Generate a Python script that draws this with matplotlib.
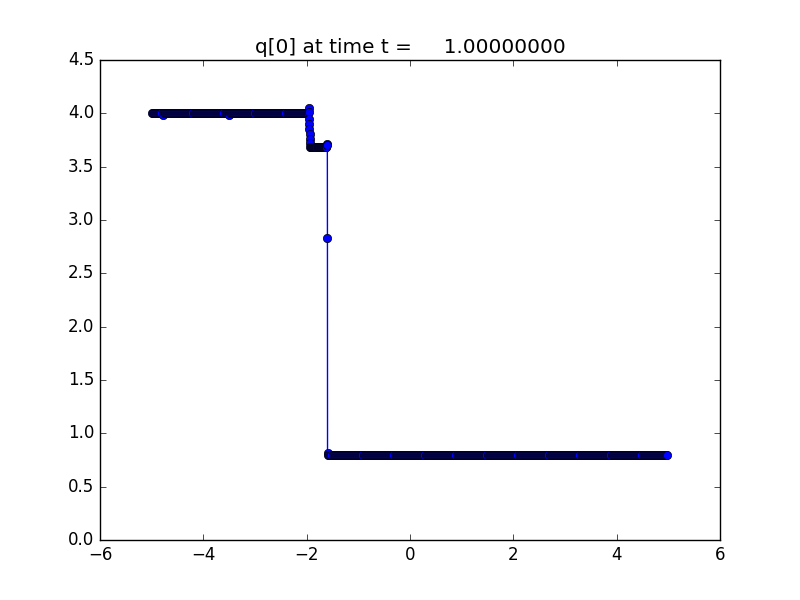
import numpy as np
import matplotlib
matplotlib.use('Agg')
import matplotlib.pyplot as plt

plt.style.use('classic')

title_text = "q[0] at time t =     1.00000000"

# Left plateau (state q = 4.0)
left_x = np.arange(-4.99, -1.96, 0.02)
left_q = np.full(left_x.size, 4.0)
# a couple of slightly displaced points on the left plateau
dip_x = [-4.79, -3.51]
dip_q = [3.985, 3.985]

# first transition column near x = -1.95
col1_x = [-1.955, -1.953, -1.951, -1.949, -1.947, -1.945, -1.943, -1.94]
col1_q = [4.05, 4.01, 3.95, 3.90, 3.85, 3.81, 3.76, 3.72]

# intermediate plateau
mid_x = np.arange(-1.93, -1.61, 0.01)
mid_q = np.full(mid_x.size, 3.68)

# shock column near x = -1.6
col2_x = [-1.605, -1.600, -1.598, -1.596]
col2_q = [3.71, 3.70, 2.83, 0.82]

# right plateau (state q = 0.8)
right_x = np.arange(-1.58, 5.0, 0.02)
right_q = np.full(right_x.size, 0.80)

x = np.concatenate([left_x, dip_x, col1_x, mid_x, col2_x, right_x])
q = np.concatenate([left_q, dip_q, col1_q, mid_q, col2_q, right_q])
order = np.argsort(x, kind='stable')
x = x[order]
q = q[order]

fig = plt.figure(figsize=(8, 6), dpi=100, facecolor='white')
ax = fig.add_subplot(111)
fig.subplots_adjust(left=0.125, right=0.9, bottom=0.1, top=0.9)
ax.plot(x, q, 'b-o', markerfacecolor='b', markeredgecolor='k',
        markeredgewidth=0.5, markersize=6, linewidth=1)
ax.set_xlim(-6, 6)
ax.set_ylim(0, 4.5)
ax.set_xticks([-6, -4, -2, 0, 2, 4, 6])
ax.set_yticks(np.arange(0, 4.51, 0.5))
ax.set_title(title_text)
fig.savefig('out.png', dpi=100, facecolor='white')
